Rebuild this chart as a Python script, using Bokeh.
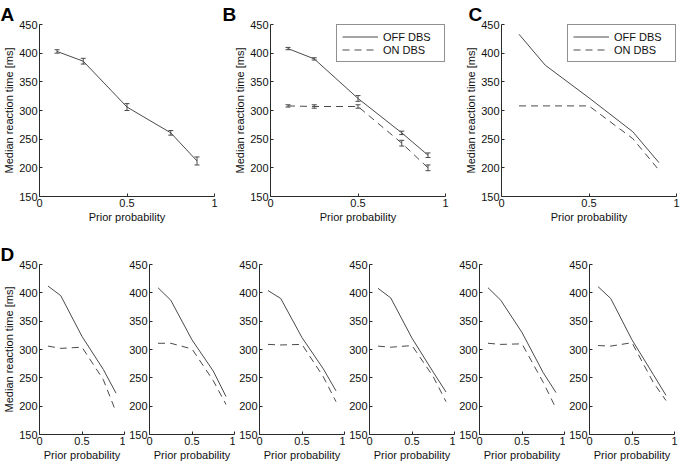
from bokeh.plotting import figure
from bokeh.models import (Range1d, FixedTicker, Legend, LegendItem, Whisker,
                          ColumnDataSource, TeeHead)
from bokeh.layouts import row, column
from bokeh.embed import file_html
from bokeh.resources import INLINE

# ---------------- data ----------------
prior = [0.1, 0.25, 0.5, 0.75, 0.9]
x_ticks = [0, 0.5, 1]
x_tick_labels = ["0", "0.5", "1"]
y_ticks = [150, 200, 250, 300, 350, 400, 450]

a_rt = [403, 386, 306, 261, 212]
a_err = [3, 5, 6, 4, 7]

b_off = [408, 390, 321, 261, 222]
b_off_err = [2, 2, 5, 3, 4]
b_on = [308, 307, 307, 243, 200]
b_on_err = [2, 3, 3, 5, 5]

c_off = [433, 379, 322, 263, 209]
c_on = [308, 308, 308, 251, 196]

d1_off = [412, 395, 323, 265, 223]
d1_on = [306, 302, 304, 247, 190]
d2_off = [409, 387, 317, 262, 217]
d2_on = [311, 311, 301, 245, 203]
d3_off = [404, 390, 321, 266, 227]
d3_on = [309, 308, 309, 252, 208]
d4_off = [408, 391, 320, 260, 225]
d4_on = [306, 304, 307, 252, 208]
d5_off = [409, 387, 330, 259, 224]
d5_on = [311, 309, 310, 242, 196]
d6_off = [411, 390, 317, 256, 219]
d6_on = [307, 306, 312, 242, 210]

series_label_off = "OFF DBS"
series_label_on = "ON DBS"
x_label = "Prior probability"
y_label = "Median reaction time [ms]"

# ---------------- style ----------------
FONT = "Liberation Sans"
LINE = "#4a4a4a"
AXIS = "#2a2a2a"
TEXT = "#111111"
DASH = "7 5"


def make_fig(frame_w, frame_h, bl, br, bt, bb, letter, letter_offset, ylab):
    p = figure(frame_width=frame_w, frame_height=frame_h,
               x_range=Range1d(0, 1), y_range=Range1d(150, 450),
               output_backend="svg", toolbar_location=None,
               min_border_left=bl, min_border_right=br,
               min_border_top=bt, min_border_bottom=bb,
               title=letter)
    p.title.text_font = FONT
    p.title.text_font_size = "19px"
    p.title.text_font_style = "bold"
    p.title.text_color = "#000000"
    p.title.align = "left"
    p.title.offset = letter_offset
    p.title.standoff = 0
    p.outline_line_color = None
    p.xgrid.visible = False
    p.ygrid.visible = False
    p.background_fill_color = "white"
    p.border_fill_color = "white"
    p.xaxis.ticker = FixedTicker(ticks=x_ticks)
    p.xaxis.major_label_overrides = dict(zip(x_ticks, x_tick_labels))
    p.yaxis.ticker = FixedTicker(ticks=y_ticks)
    p.xaxis.axis_label = x_label
    if ylab:
        p.yaxis.axis_label = y_label
    for ax in p.axis:
        ax.axis_line_color = AXIS
        ax.axis_line_width = 1
        ax.major_tick_line_color = AXIS
        ax.major_tick_in = 3
        ax.major_tick_out = 0
        ax.minor_tick_line_color = None
        ax.major_label_text_font = FONT
        ax.major_label_text_font_size = "11px"
        ax.major_label_text_color = TEXT
        ax.major_label_standoff = 2
        ax.axis_label_text_font = FONT
        ax.axis_label_text_font_size = "11px"
        ax.axis_label_text_font_style = "normal"
        ax.axis_label_text_color = TEXT
        ax.axis_label_standoff = 1
    return p


def add_err(p, ys, errs):
    src = ColumnDataSource(dict(
        x=prior,
        upper=[y + e for y, e in zip(ys, errs)],
        lower=[y - e for y, e in zip(ys, errs)]))
    w = Whisker(base="x", upper="upper", lower="lower", source=src,
                line_color=LINE, line_width=1,
                upper_head=TeeHead(size=5, line_color=LINE, line_width=1),
                lower_head=TeeHead(size=5, line_color=LINE, line_width=1))
    p.add_layout(w)


def add_legend(p, r_off, r_on):
    lg = Legend(items=[LegendItem(label=series_label_off, renderers=[r_off]),
                       LegendItem(label=series_label_on, renderers=[r_on])],
                location="top_right", margin=0, padding=5, spacing=0,
                glyph_width=36, glyph_height=13, label_height=13,
                label_width=56, label_standoff=5,
                label_text_font=FONT, label_text_font_size="11px",
                label_text_color=TEXT,
                border_line_color="#222222", border_line_width=1,
                background_fill_color="white", background_fill_alpha=1)
    p.add_layout(lg)


TOP_W, TOP_H, TOP_BT, TOP_BB = 175, 172, 24, 45
BOT_W, BOT_H, BOT_BT, BOT_BB = 85, 170, 19, 28

# Panel A
pa = make_fig(TOP_W, TOP_H, 39, 7, TOP_BT, TOP_BB, "A", -39, True)
pa.line(prior, a_rt, line_color=LINE, line_width=1)
add_err(pa, a_rt, a_err)

# Panel B
pb = make_fig(TOP_W, TOP_H, 49, 14, TOP_BT, TOP_BB, "B", -48, True)
rb_off = pb.line(prior, b_off, line_color=LINE, line_width=1)
rb_on = pb.line(prior, b_on, line_color=LINE, line_width=1, line_dash=DASH)
add_err(pb, b_off, b_off_err)
add_err(pb, b_on, b_on_err)
add_legend(pb, rb_off, rb_on)

# Panel C
pc = make_fig(TOP_W, TOP_H, 42, 5, TOP_BT, TOP_BB, "C", -33, True)
rc_off = pc.line(prior, c_off, line_color=LINE, line_width=1)
rc_on = pc.line(prior, c_on, line_color=LINE, line_width=1, line_dash=DASH)
add_legend(pc, rc_off, rc_on)

# Panel D (six patients)
d_off_all = [d1_off, d2_off, d3_off, d4_off, d5_off, d6_off]
d_on_all = [d1_on, d2_on, d3_on, d4_on, d5_on, d6_on]
d_figs = []
for i, (off, on) in enumerate(zip(d_off_all, d_on_all)):
    first = i == 0
    last = i == len(d_off_all) - 1
    p = make_fig(BOT_W, BOT_H, 39 if first else 24, 6 if last else 1,
                 BOT_BT, BOT_BB,
                 "D" if first else " ", -39 if first else 0, first)
    p.line(prior, off, line_color=LINE, line_width=1)
    p.line(prior, on, line_color=LINE, line_width=1, line_dash=DASH)
    d_figs.append(p)

layout = column(row(pa, pb, pc, spacing=0), row(*d_figs, spacing=0), spacing=0)

open("out.html", "w").write(file_html(layout, INLINE))
